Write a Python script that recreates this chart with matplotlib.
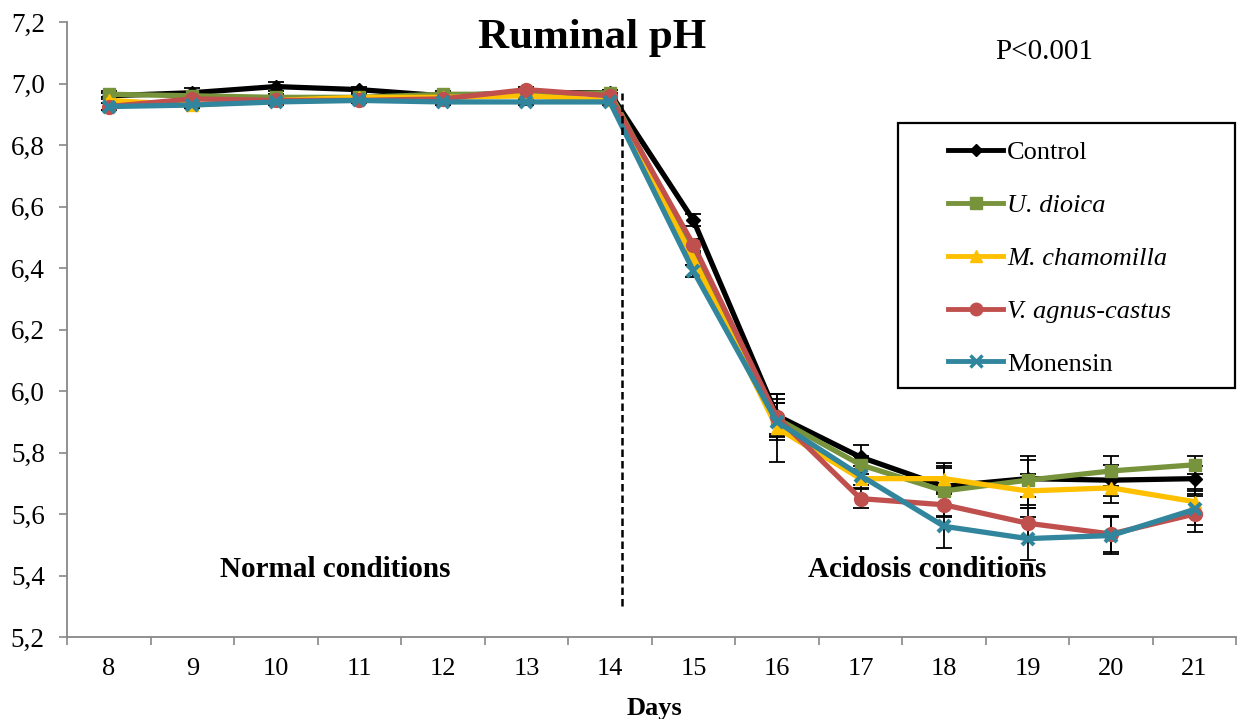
import matplotlib
matplotlib.use("Agg")
import matplotlib.pyplot as plt
from matplotlib.lines import Line2D
from matplotlib.patches import Rectangle
import numpy as np

days = [8, 9, 10, 11, 12, 13, 14, 15, 16, 17, 18, 19, 20, 21]
control = [6.96, 6.97, 6.99, 6.98, 6.96, 6.97, 6.97, 6.555, 5.92, 5.785, 5.69, 5.715, 5.71, 5.715]
dioica = [6.965, 6.96, 6.955, 6.955, 6.965, 6.965, 6.97, 6.46, 5.91, 5.76, 5.675, 5.71, 5.74, 5.76]
chamomilla = [6.945, 6.93, 6.945, 6.955, 6.955, 6.96, 6.945, 6.43, 5.88, 5.715, 5.715, 5.675, 5.685, 5.64]
agnus = [6.925, 6.95, 6.945, 6.945, 6.95, 6.98, 6.96, 6.475, 5.915, 5.65, 5.63, 5.57, 5.535, 5.60]
monensin = [6.925, 6.93, 6.94, 6.945, 6.94, 6.94, 6.94, 6.39, 5.90, 5.725, 5.56, 5.52, 5.53, 5.615]

err_control = [0.01, 0.015, 0.015, 0.01, 0.01, 0.01, 0.01, 0.02, 0.07, 0.04, 0.06, 0.06, 0.05, 0.04]
err_dioica = [0.01, 0.01, 0.01, 0.01, 0.01, 0.01, 0.01, 0.02, 0.05, 0.03, 0.08, 0.08, 0.05, 0.03]
err_chamomilla = [0.01, 0.01, 0.01, 0.01, 0.01, 0.01, 0.01, 0.02, 0.11, 0.03, 0.05, 0.055, 0.05, 0.04]
err_agnus = [0.01, 0.01, 0.01, 0.01, 0.01, 0.01, 0.01, 0.02, 0.06, 0.03, 0.04, 0.05, 0.06, 0.06]
err_monensin = [0.01, 0.01, 0.01, 0.01, 0.01, 0.01, 0.01, 0.02, 0.06, 0.03, 0.07, 0.07, 0.06, 0.05]

names = ["Control", "U. dioica", "M. chamomilla", "V. agnus-castus", "Monensin"]
italic = [False, True, True, True, False]
colors = ["#000000", "#77933C", "#FFC000", "#C0504D", "#31859C"]
markers = ["D", "s", "^", "o", "x"]
msizes = [7, 9, 9, 10, 9]
series = [control, dioica, chamomilla, agnus, monensin]
errors = [err_control, err_dioica, err_chamomilla, err_agnus, err_monensin]

plt.rcParams['font.family'] = ['Liberation Serif', 'DejaVu Serif']

W, H = 1237, 719
fig = plt.figure(figsize=(W / 100, H / 100), dpi=100)
ax = fig.add_axes([67 / W, 1 - 637 / H, 1 - 67 / W - 0.0005, (637 - 22) / H])

x = np.arange(len(days))
for vals, err in zip(series, errors):
    ax.errorbar(x, vals, yerr=err, fmt='none', ecolor='black', elinewidth=1.3,
                capsize=6, capthick=1.3, zorder=2)
for vals, c, m, ms in zip(series, colors, markers, msizes):
    ax.plot(x, vals, color=c, lw=3.8, marker=m, markersize=ms,
            markeredgewidth=3 if m == 'x' else 1, markeredgecolor=c, zorder=3)

ax.set_xlim(-0.5, len(days) - 0.5)
ax.set_ylim(5.2, 7.2)
ax.set_xticks(x)
ax.set_xticklabels([str(d) for d in days], fontsize=19)
ax.set_xticks(np.arange(-0.5, len(days), 1), minor=True)
ax.tick_params(axis='x', which='major', length=0, pad=15)
ax.tick_params(axis='x', which='minor', length=6, color='#888888', width=1.2)
yt = np.arange(5.2, 7.21, 0.2)
ax.set_yticks(yt)
ax.set_yticklabels([f"{v:.1f}".replace('.', ',') for v in yt], fontsize=19.5)
ax.tick_params(axis='y', length=6, color='#888888', width=1.2, pad=10)
for s in ['top', 'right']:
    ax.spines[s].set_visible(False)
for s in ['left', 'bottom']:
    ax.spines[s].set_color('#888888')
    ax.spines[s].set_linewidth(1.3)

ax.plot([6.14, 6.14], [5.3, 6.97], ls=(0, (3, 1.6)), color='black', lw=1.8, zorder=4)

fig.text(654 / W, 1 - 708 / H, "Days", ha='center', va='center', fontsize=19, fontweight='bold')
fig.text(592 / W, 1 - 38 / H, "Ruminal pH", ha='center', va='center',
         fontsize=31, fontweight='bold')
fig.text(1044 / W, 1 - 52 / H, "P<0.001", ha='center', va='center', fontsize=21)
ax.text(2.71, 5.42, "Normal conditions", ha='center', va='center', fontsize=21, fontweight='bold')
ax.text(9.80, 5.42, "Acidosis conditions", ha='center', va='center', fontsize=21, fontweight='bold')

fig.patches.append(Rectangle((898 / W, 1 - 388 / H), 337 / W, 265 / H, transform=fig.transFigure,
                             fill=False, edgecolor='black', linewidth=1.6, zorder=5))
lmsizes = [6, 8, 8, 9, 8]
handles = [Line2D([0], [0], color=c, lw=3.5, marker=m, markersize=ms,
                  markeredgewidth=2.5 if m == 'x' else 1, markeredgecolor=c)
           for c, m, ms in zip(colors, markers, lmsizes)]
leg = fig.legend(handles, names, loc='upper left', bbox_to_anchor=(948 / W, 1 - 141 / H),
                 fontsize=19, frameon=False, handlelength=2.1, labelspacing=1.11,
                 borderpad=0, handletextpad=0.15, borderaxespad=0)
for t, it in zip(leg.get_texts(), italic):
    if it:
        t.set_fontstyle('italic')

fig.savefig("out.png", dpi=100)
